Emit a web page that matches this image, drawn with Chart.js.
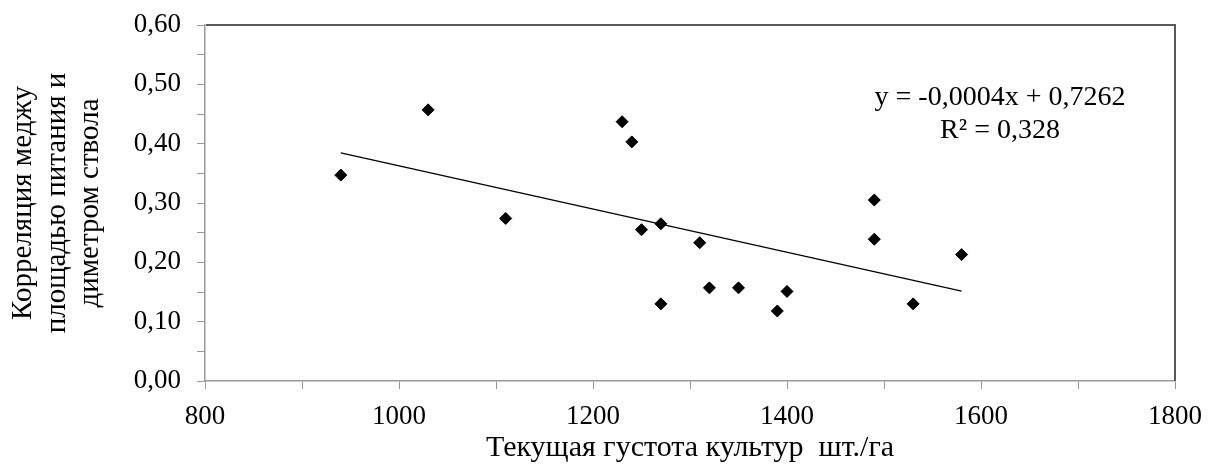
<!DOCTYPE html>
<html>
<head>
<meta charset="utf-8">
<script src="https://cdn.jsdelivr.net/npm/chart.js@4.4.1/dist/chart.umd.min.js"></script>
<style>
  html, body { margin: 0; padding: 0; background: #fff; }
  #wrap { width: 1209px; height: 466px; position: relative; }
</style>
</head>
<body>
<div id="wrap"><canvas id="c" width="1209" height="466"></canvas></div>
<script>
// ---- data ----
const densityX = [940, 1030, 1110, 1230, 1240, 1250, 1270, 1270, 1310, 1320, 1350, 1390, 1400, 1490, 1490, 1530, 1580];
const correlationY = [0.347, 0.457, 0.274, 0.437, 0.403, 0.255, 0.265, 0.130, 0.233, 0.157, 0.157, 0.118, 0.151, 0.305, 0.239, 0.130, 0.213];
const equationLines = ['y = -0,0004x + 0,7262', 'R² = 0,328'];
const xTitle = 'Текущая густота культур  шт./га';
const yTitle = ['Корреляция меджу', 'площадью питания и', 'диметром ствола'];

// linear least-squares trend through the points
const n = densityX.length;
const mx = densityX.reduce((a, b) => a + b, 0) / n;
const my = correlationY.reduce((a, b) => a + b, 0) / n;
let sxy = 0, sxx = 0;
for (let i = 0; i < n; i++) { sxy += (densityX[i] - mx) * (correlationY[i] - my); sxx += (densityX[i] - mx) ** 2; }
const slope = sxy / sxx, intercept = my - slope * mx;
const xMin = Math.min(...densityX), xMax = Math.max(...densityX);
const trendPoints = [{x: xMin, y: intercept + slope * xMin}, {x: xMax, y: intercept + slope * xMax}];
const scatterPoints = densityX.map((x, i) => ({x, y: correlationY[i]}));

const FONT = "'Liberation Serif', 'Times New Roman', serif";
const AXIS = '#9a9a9a';

const framePlugin = {
  id: 'frame',
  afterDatasetsDraw(chart) {
    const {ctx, chartArea: a} = chart;
    ctx.save();
    ctx.strokeStyle = '#595959';
    ctx.lineWidth = 2;
    ctx.beginPath();
    ctx.moveTo(a.left + 1, a.top);
    ctx.lineTo(a.right, a.top);
    ctx.lineTo(a.right, a.bottom);
    ctx.stroke();
    ctx.restore();
  },
  afterDraw(chart) {
    const {ctx, chartArea: a} = chart;
    ctx.save();
    ctx.fillStyle = '#000';
    ctx.font = '28px ' + FONT;
    ctx.textAlign = 'center';
    ctx.textBaseline = 'alphabetic';
    const cx = a.right - 175;
    ctx.fillText(equationLines[0], cx, a.top + 80);
    ctx.fillText(equationLines[1], cx, a.top + 113);
    ctx.restore();
  }
};

new Chart(document.getElementById('c'), {
  type: 'scatter',
  data: {
    datasets: [
      {
        label: 'points',
        data: scatterPoints,
        pointStyle: 'rectRot',
        pointRadius: 6,
        pointHoverRadius: 6,
        backgroundColor: '#000',
        borderColor: '#000',
        borderWidth: 1,
        order: 1
      },
      {
        label: 'trend',
        type: 'line',
        data: trendPoints,
        showLine: true,
        borderColor: '#000',
        borderWidth: 1.3,
        pointRadius: 0,
        fill: false,
        order: 2
      }
    ]
  },
  options: {
    responsive: false,
    animation: false,
    events: [],
    layout: { padding: { top: 25, right: 34, left: 0, bottom: 0 } },
    plugins: { legend: { display: false }, tooltip: { enabled: false } },
    scales: {
      x: {
        type: 'linear',
        min: 800, max: 1800,
        afterFit(s) { s.height = 85; s.paddingRight = 0; s.paddingLeft = 0; },
        ticks: {
          stepSize: 100,
          autoSkip: false,
          maxRotation: 0,
          padding: 12,
          color: '#000',
          font: { family: FONT, size: 27 },
          callback: v => (Math.round(v) % 200 === 0 ? String(Math.round(v)) : '')
        },
        grid: { drawOnChartArea: false, tickLength: 8, color: AXIS, lineWidth: 1 },
        border: { color: AXIS, width: 1.5 },
        title: {
          display: true, text: xTitle, color: '#000',
          font: { family: FONT, size: 30, lineHeight: 1.1 },
          padding: { top: 0, bottom: 1 }
        }
      },
      y: {
        type: 'linear',
        min: 0, max: 0.6,
        afterFit(s) { s.width = 205; s.paddingTop = 0; s.paddingBottom = 0; },
        ticks: {
          stepSize: 0.05,
          autoSkip: false,
          padding: 16,
          color: '#000',
          font: { family: FONT, size: 27 },
          callback: v => (Math.round(v * 100) % 10 === 0 ? v.toFixed(2).replace('.', ',') : '')
        },
        grid: { drawOnChartArea: false, tickLength: 8, color: AXIS, lineWidth: 1 },
        border: { color: AXIS, width: 1.5 },
        title: {
          display: true, text: yTitle, color: '#000',
          font: { family: FONT, size: 29, lineHeight: 1.17 },
          padding: { top: 6, bottom: 0 }
        }
      }
    }
  },
  plugins: [framePlugin]
});
</script>
</body>
</html>
